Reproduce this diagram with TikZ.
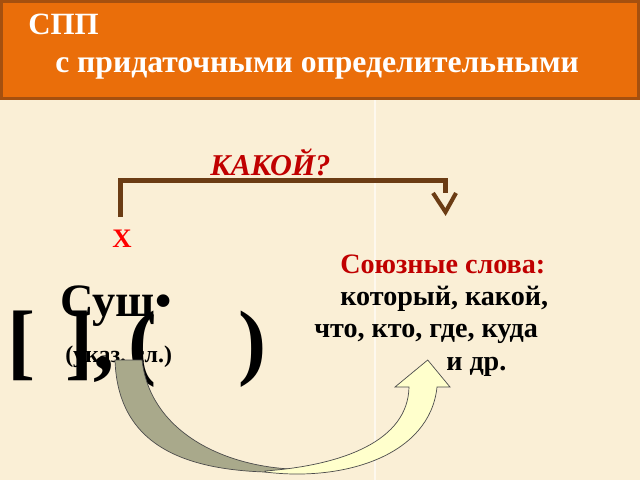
\documentclass[tikz,border=0pt]{standalone}
\usepackage{fontspec}
\setmainfont{Liberation Serif}
\definecolor{paper}{HTML}{FAEFD6}
\definecolor{headorange}{HTML}{EA6E0A}
\definecolor{headbrown}{HTML}{A5500F}
\definecolor{linkbrown}{HTML}{6B3C14}
\definecolor{darkred}{HTML}{C00000}
\definecolor{tailgray}{HTML}{A9A98B}
\definecolor{headyellow}{HTML}{FFFFCC}

\begin{document}
\begin{tikzpicture}[
		txt/.style={anchor=base west, inner sep=0pt},
		glyph/.style={anchor=base, inner sep=0pt, font=\bfseries\fontsize{60}{60}\selectfont},
		link/.style={draw=linkbrown, line width=3.6pt},
	]
		\useasboundingbox (0,0) rectangle (16,12);
		\fill[paper] (0,0) rectangle (16,12);
		\draw[white, opacity=0.6, line width=0.8pt] (9.375,0) -- (9.375,9.5);
		% title bar
		\filldraw[fill=headorange, draw=headbrown, line width=2.2pt] (0.04,11.96) rectangle (15.96,9.53);
		\node[txt, white, font=\bfseries\fontsize{22}{26}\selectfont] (spp) at (0.7,11.125) {СПП};
		\node[txt, white, font=\bfseries\fontsize{22.5}{26}\selectfont] (kind) at (1.375,10.175) {с придаточными определительными};
		% question
		\node[txt, darkred, font=\bfseries\itshape\fontsize{21.5}{24}\selectfont] (q) at (5.25,7.625) {КАКОЙ?};
		\node[anchor=base, inner sep=0pt, red, font=\bfseries\fontsize{19}{22}\selectfont] (x) at (3.05,5.825) {Х};
		\coordinate (kfrom) at (3.0125,6.575);
		\coordinate (kto) at (11.1375,7.175);
		\draw[link] (kfrom) -- ++(0,0.9125) -| (kto);
		\draw[link, line width=2.9pt] (kto) ++(-0.3125,0) -- ++(0.3125,-0.475) -- ++(0.2625,0.475);
		% scheme
		\node[txt, font=\bfseries\fontsize{33}{36}\selectfont] (noun) at (1.5,4.1) {Сущ•};
		\node[glyph] (lb) at (0.55,2.775) {[};
		\node[glyph] (rb) at (2.0,2.775) {]};
		\node[glyph] (cm) at (2.6,2.775) {,};
		\node[glyph] (lp) at (3.575,2.775) {(};
		\node[glyph] (rp) at (6.325,2.775) {)};
		\node[txt, font=\bfseries\fontsize{17}{20}\selectfont] (dem) at (1.625,2.95) {(указ. сл.)};
		% conjunctive words
		\node[txt, darkred, font=\bfseries\fontsize{20}{24}\selectfont] (sw) at (8.5,5.175) {Союзные слова:};
		\node[txt, font=\bfseries\fontsize{20}{24}\selectfont] (w1) at (8.5,4.375) {который, какой,};
		\node[txt, font=\bfseries\fontsize{20}{24}\selectfont] (w2) at (7.85,3.575) {что, кто, где, куда};
		\node[txt, font=\bfseries\fontsize{20}{24}\selectfont] (w3) at (11.15,2.75) {и др.};
		% curved arrow
		\filldraw[fill=tailgray, draw=black!70, line width=0.5pt] (2.875,3.0) .. controls (2.95,0.625) and (5.0,0.125) .. (7.5,0.2)
		-- (7.25,0.275) .. controls (5.5,0.375) and (3.75,1.25) .. (3.55,3.0) -- cycle;
		\filldraw[fill=headyellow, draw=black!70, line width=0.5pt] (6.625,0.225) .. controls (8.625,0.375) and (10.2,1.0) .. (10.225,2.325)
		-- (9.875,2.325) -- (10.6925,3.0) -- (11.25,2.325) -- (10.925,2.325)
		.. controls (10.75,0.625) and (8.625,-0.05) .. (6.625,0.2) -- cycle;
	\end{tikzpicture}
\end{document}
